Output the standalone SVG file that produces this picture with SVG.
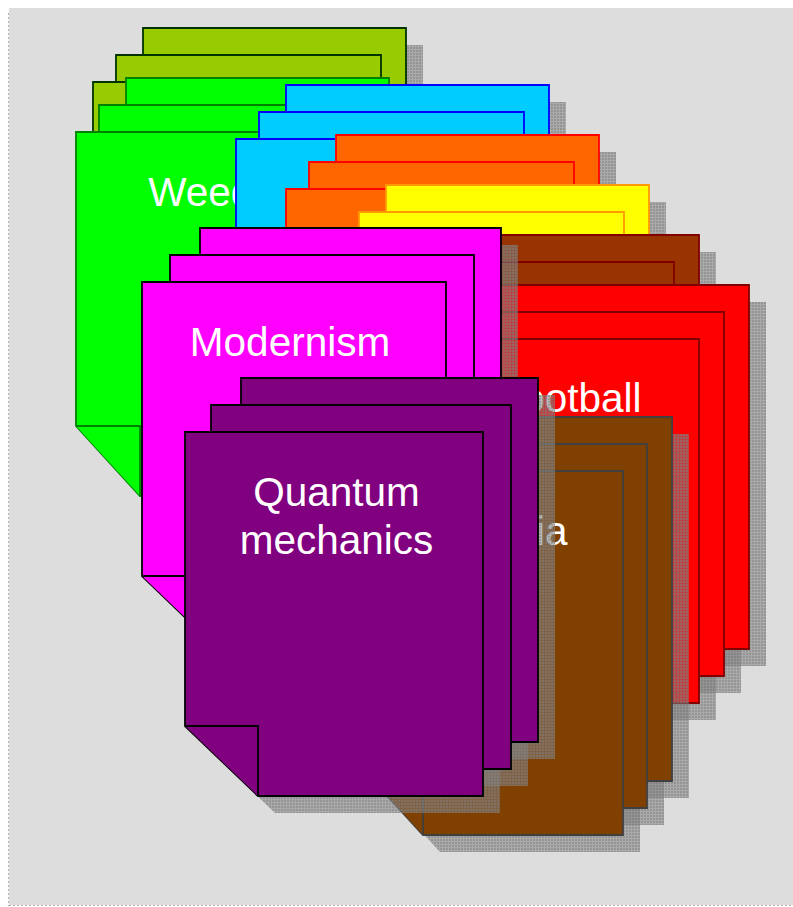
<svg xmlns="http://www.w3.org/2000/svg" xmlns:xlink="http://www.w3.org/1999/xlink" width="793" height="907" viewBox="0 0 793 907">
  <style>
    .pg { stroke-width: 1.8; stroke-linejoin: miter; }
    .fold { fill: none; stroke-width: 1.8; }
    .shadow { fill: url(#stipple); }
    .yg { fill: #99cc00; stroke: #003300; }
    .gr { fill: #00ff00; stroke: #008000; }
    .cy { fill: #00ccff; stroke: #0000ff; }
    .or { fill: #ff6600; stroke: #ff0000; }
    .ye { fill: #ffff00; stroke: #ff9900; }
    .br { fill: #993300; stroke: #800000; }
    .rd { fill: #ff0000; stroke: #800000; }
    .mg { fill: #ff00ff; stroke: #000000; }
    .bn { fill: #804000; stroke: #404040; }
    .pu { fill: #800080; stroke: #000000; }
    .fold.yg { stroke: #003300; } .fold.gr { stroke: #008000; } .fold.cy { stroke: #0000ff; }
    .fold.or { stroke: #ff0000; } .fold.ye { stroke: #ff9900; } .fold.br { stroke: #800000; }
    .fold.rd { stroke: #800000; } .fold.mg { stroke: #000000; } .fold.bn { stroke: #404040; }
    .fold.pu { stroke: #000000; }
    .lbl { font-family: "Liberation Sans", Arial, sans-serif; font-size: 40.5px; fill: #ffffff; text-anchor: middle; }
  </style>
  <defs>
    <!-- drop-shadow texture: grey mesh that lets the colour below show through -->
    <pattern id="stipple" width="3" height="3" patternUnits="userSpaceOnUse">
      <rect width="3" height="3" fill="#808080" fill-opacity="0.55"/>
      <rect width="2" height="2" fill="#808080" fill-opacity="0.5"/>
    </pattern>
    <!-- page outlines: sheet with the bottom-left corner folded in -->
    <polygon id="yg1" points="143,28 406,28 406,392 207,392 143,322"/>
    <polygon id="yg2" points="116,55 381,55 381,419 180,419 116,349"/>
    <polygon id="yg3" points="93,82 356,82 356,446 157,446 93,376"/>
    <polygon id="gr1" points="126,78 389,78 389,442 190,442 126,372"/>
    <polygon id="gr2" points="99,105 364,105 364,469 163,469 99,399"/>
    <polygon id="gr3" points="76,132 339,132 339,496 140,496 76,426"/>
    <polygon id="cy1" points="286,85 549,85 549,449 350,449 286,379"/>
    <polygon id="cy2" points="259,112 524,112 524,476 323,476 259,406"/>
    <polygon id="cy3" points="236,139 499,139 499,503 300,503 236,433"/>
    <polygon id="or1" points="336,135 599,135 599,499 400,499 336,429"/>
    <polygon id="or2" points="309,162 574,162 574,526 373,526 309,456"/>
    <polygon id="or3" points="286,189 549,189 549,553 350,553 286,483"/>
    <polygon id="ye1" points="386,185 649,185 649,549 450,549 386,479"/>
    <polygon id="ye2" points="359,212 624,212 624,576 423,576 359,506"/>
    <polygon id="ye3" points="336,239 599,239 599,603 400,603 336,533"/>
    <polygon id="br1" points="436,235 699,235 699,599 500,599 436,529"/>
    <polygon id="br2" points="409,262 674,262 674,626 473,626 409,556"/>
    <polygon id="br3" points="386,289 649,289 649,653 450,653 386,583"/>
    <polygon id="rd1" points="486,285 749,285 749,649 550,649 486,579"/>
    <polygon id="rd2" points="459,312 724,312 724,676 523,676 459,606"/>
    <polygon id="rd3" points="436,339 699,339 699,703 500,703 436,633"/>
    <polygon id="mg1" points="200,228 501,228 501,592 273,592 200,522"/>
    <polygon id="mg2" points="170,255 474,255 474,619 243,619 170,549"/>
    <polygon id="mg3" points="142,282 446,282 446,646 215,646 142,576"/>
    <polygon id="bn1" points="409,417 672,417 672,781 473,781 409,711"/>
    <polygon id="bn2" points="382,444 647,444 647,808 446,808 382,738"/>
    <polygon id="bn3" points="359,471 623,471 623,835 423,835 359,765"/>
    <polygon id="pu1" points="241,378 538,378 538,742 314,742 241,672"/>
    <polygon id="pu2" points="211,405 511,405 511,769 284,769 211,699"/>
    <polygon id="pu3" points="185,432 483,432 483,796 258,796 185,726"/>
  </defs>

  <!-- canvas -->
  <rect x="9" y="8" width="784" height="897" fill="#dddddd"/>
  <line x1="8.5" y1="13" x2="8.5" y2="906" stroke="#b0b0b0" stroke-width="1" stroke-dasharray="2,2"/>
  <line x1="9" y1="905.5" x2="793" y2="905.5" stroke="#b0b0b0" stroke-width="1" stroke-dasharray="2,2"/>

  <g id="stack-yellowgreen">
    <g class="shadow" transform="translate(17,17)"><use xlink:href="#yg1"/><use xlink:href="#yg2"/><use xlink:href="#yg3"/></g>
    <use xlink:href="#yg1" class="pg yg"/><polyline class="fold yg" points="143,322 207,322 207,392"/>
    <use xlink:href="#yg2" class="pg yg"/><polyline class="fold yg" points="116,349 180,349 180,419"/>
    <use xlink:href="#yg3" class="pg yg"/><polyline class="fold yg" points="93,376 157,376 157,446"/>
  </g>

  <g id="stack-weeds">
    <g class="shadow" transform="translate(17,17)"><use xlink:href="#gr1"/><use xlink:href="#gr2"/><use xlink:href="#gr3"/></g>
    <use xlink:href="#gr1" class="pg gr"/><polyline class="fold gr" points="126,372 190,372 190,442"/>
    <use xlink:href="#gr2" class="pg gr"/><polyline class="fold gr" points="99,399 163,399 163,469"/>
    <use xlink:href="#gr3" class="pg gr"/><polyline class="fold gr" points="76,426 140,426 140,496"/>
    <text class="lbl" x="211" y="206">Weeds</text>
  </g>

  <g id="stack-cyan">
    <g class="shadow" transform="translate(17,17)"><use xlink:href="#cy1"/><use xlink:href="#cy2"/><use xlink:href="#cy3"/></g>
    <use xlink:href="#cy1" class="pg cy"/><polyline class="fold cy" points="286,379 350,379 350,449"/>
    <use xlink:href="#cy2" class="pg cy"/><polyline class="fold cy" points="259,406 323,406 323,476"/>
    <use xlink:href="#cy3" class="pg cy"/><polyline class="fold cy" points="236,433 300,433 300,503"/>
  </g>

  <g id="stack-orange">
    <g class="shadow" transform="translate(17,17)"><use xlink:href="#or1"/><use xlink:href="#or2"/><use xlink:href="#or3"/></g>
    <use xlink:href="#or1" class="pg or"/><polyline class="fold or" points="336,429 400,429 400,499"/>
    <use xlink:href="#or2" class="pg or"/><polyline class="fold or" points="309,456 373,456 373,526"/>
    <use xlink:href="#or3" class="pg or"/><polyline class="fold or" points="286,483 350,483 350,553"/>
  </g>

  <g id="stack-yellow">
    <g class="shadow" transform="translate(17,17)"><use xlink:href="#ye1"/><use xlink:href="#ye2"/><use xlink:href="#ye3"/></g>
    <use xlink:href="#ye1" class="pg ye"/><polyline class="fold ye" points="386,479 450,479 450,549"/>
    <use xlink:href="#ye2" class="pg ye"/><polyline class="fold ye" points="359,506 423,506 423,576"/>
    <use xlink:href="#ye3" class="pg ye"/><polyline class="fold ye" points="336,533 400,533 400,603"/>
  </g>

  <g id="stack-rust">
    <g class="shadow" transform="translate(17,17)"><use xlink:href="#br1"/><use xlink:href="#br2"/><use xlink:href="#br3"/></g>
    <use xlink:href="#br1" class="pg br"/><polyline class="fold br" points="436,529 500,529 500,599"/>
    <use xlink:href="#br2" class="pg br"/><polyline class="fold br" points="409,556 473,556 473,626"/>
    <use xlink:href="#br3" class="pg br"/><polyline class="fold br" points="386,583 450,583 450,653"/>
  </g>

  <g id="stack-football">
    <g class="shadow" transform="translate(17,17)"><use xlink:href="#rd1"/><use xlink:href="#rd2"/><use xlink:href="#rd3"/></g>
    <use xlink:href="#rd1" class="pg rd"/><polyline class="fold rd" points="486,579 550,579 550,649"/>
    <use xlink:href="#rd2" class="pg rd"/><polyline class="fold rd" points="459,606 523,606 523,676"/>
    <use xlink:href="#rd3" class="pg rd"/><polyline class="fold rd" points="436,633 500,633 500,703"/>
    <text class="lbl" x="569.5" y="412">Football</text>
  </g>

  <g id="stack-modernism">
    <g class="shadow" transform="translate(17,17)"><use xlink:href="#mg1"/><use xlink:href="#mg2"/><use xlink:href="#mg3"/></g>
    <use xlink:href="#mg1" class="pg mg"/><polyline class="fold mg" points="200,522 273,522 273,592"/>
    <use xlink:href="#mg2" class="pg mg"/><polyline class="fold mg" points="170,549 243,549 243,619"/>
    <use xlink:href="#mg3" class="pg mg"/><polyline class="fold mg" points="142,576 215,576 215,646"/>
    <text class="lbl" x="290" y="356">Modernism</text>
  </g>

  <g id="stack-media">
    <g class="shadow" transform="translate(17,17)"><use xlink:href="#bn1"/><use xlink:href="#bn2"/><use xlink:href="#bn3"/></g>
    <use xlink:href="#bn1" class="pg bn"/><polyline class="fold bn" points="409,711 473,711 473,781"/>
    <use xlink:href="#bn2" class="pg bn"/><polyline class="fold bn" points="382,738 446,738 446,808"/>
    <use xlink:href="#bn3" class="pg bn"/><polyline class="fold bn" points="359,765 423,765 423,835"/>
    <text class="lbl" x="567.5" y="545" style="text-anchor: end">Media</text>
  </g>

  <g id="stack-quantum">
    <g class="shadow" transform="translate(17,17)"><use xlink:href="#pu1"/><use xlink:href="#pu2"/><use xlink:href="#pu3"/></g>
    <use xlink:href="#pu1" class="pg pu"/><polyline class="fold pu" points="241,672 314,672 314,742"/>
    <use xlink:href="#pu2" class="pg pu"/><polyline class="fold pu" points="211,699 284,699 284,769"/>
    <use xlink:href="#pu3" class="pg pu"/><polyline class="fold pu" points="185,726 258,726 258,796"/>
    <text class="lbl" x="336.5" y="506">Quantum</text>
    <text class="lbl" x="336.5" y="554">mechanics</text>
  </g>

  <!-- no connectors between the stacks -->
  <g id="connectors"/>
</svg>
